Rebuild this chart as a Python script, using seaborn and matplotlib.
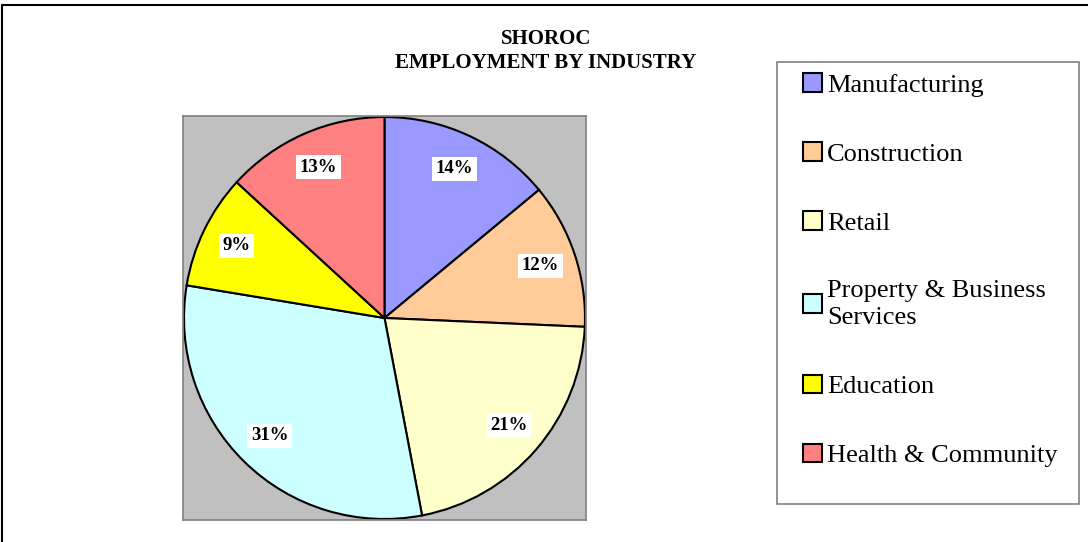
import seaborn as sns
import matplotlib.pyplot as plt
from matplotlib.patches import Patch, Rectangle
from matplotlib.lines import Line2D

sns.set_style("white")
plt.rcParams['font.family'] = ['Liberation Serif', 'DejaVu Serif']
plt.rcParams['text.color'] = 'black'

# Dados
industrias = ["Manufacturing", "Construction", "Retail",
              "Property & Business\nServices", "Education", "Health & Community"]
percentuais = [14.0, 11.7, 21.3, 30.6, 9.2, 13.2]
cores = ["#9999FF", "#FFCC99", "#FFFFCC", "#CCFFFF", "#FFFF00", "#FF8080"]

W, H = 1088, 542
fig = plt.figure(figsize=(W / 100, H / 100), dpi=100)
fig.patch.set_facecolor("white")

# Moldura (so esquerda e topo aparecem)
fig.add_artist(Line2D([2/W, 2/W], [0, 1 - 5/H], color="black", lw=1.5))
fig.add_artist(Line2D([2/W, 1], [1 - 5/H, 1 - 5/H], color="black", lw=1.5))

ax = fig.add_axes([183/W, 22/H, 403/W, 404/H])
fatias, textos, pcts = ax.pie(percentuais, colors=cores, startangle=90, counterclock=False,
                              autopct="%.0f%%", pctdistance=0.82, radius=1.0,
                              wedgeprops=dict(edgecolor="black", linewidth=1.5))
for t in pcts:
    t.set_fontsize(13.5)
    t.set_fontweight("bold")
    t.set_color("black")
    t.set_bbox(dict(facecolor="white", edgecolor="none", pad=2.5))
ax.set_frame_on(True)
ax.set_facecolor("#C0C0C0")
ax.set_xlim(-1.005, 1.005)
ax.set_ylim(-1.005, 1.005)
ax.set_aspect("auto")
ax.set_xticks([])
ax.set_yticks([])
for s in ax.spines.values():
    s.set_visible(True)
    s.set_color("#808080")
    s.set_linewidth(1.2)

fig.text(546/W, 1 - 39/H, "SHOROC", ha="center", va="center",
         fontsize=15, fontweight="bold")
fig.text(546/W, 1 - 63/H, "EMPLOYMENT BY INDUSTRY", ha="center", va="center",
         fontsize=15, fontweight="bold")

# Caixa da legenda
fig.add_artist(Rectangle((777/W, 1 - 504/H), 302/W, 442/H, transform=fig.transFigure,
                         facecolor="none", edgecolor="#808080", linewidth=1.2))

handles = [Patch(facecolor=c, edgecolor="black", linewidth=1.5) for c in cores]
leg = fig.legend(handles, industrias, loc="upper left",
                 bbox_to_anchor=(803/W, 1 - 73/H), frameon=False,
                 fontsize=19, handlelength=0.72, handleheight=0.72,
                 handletextpad=0.2, labelspacing=1.72, borderpad=0,
                 borderaxespad=0)
for t in leg.get_texts():
    t.set_color("black")
    t.set_linespacing(1.3)

fig.savefig("out.png", dpi=100)
